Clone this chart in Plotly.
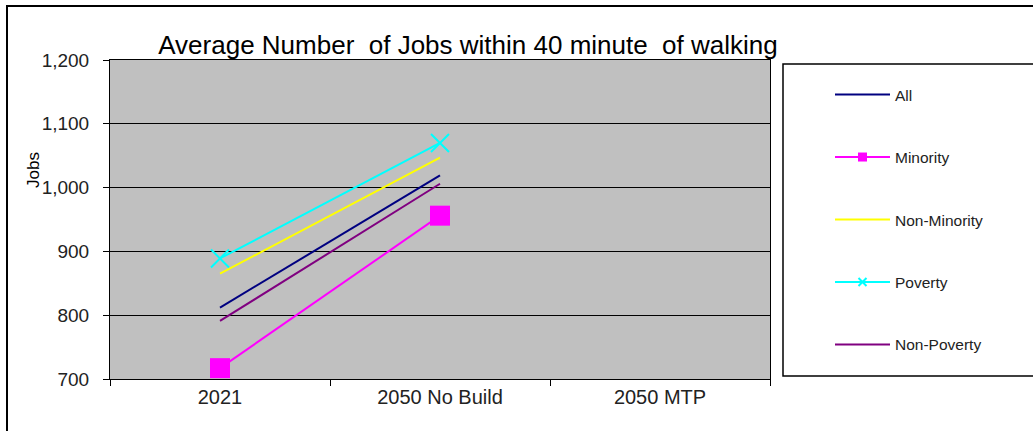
import plotly.graph_objects as go

categories = ["2021", "2050 No Build", "2050 MTP"]

all_jobs = [812, 1019, None]
minority = [717, 956, None]
non_minority = [865, 1047, None]
poverty = [889, 1070, None]
non_poverty = [791, 1006, None]

series = [
    ("All", all_jobs, "#000080", None),
    ("Minority", minority, "#FF00FF", "square"),
    ("Non-Minority", non_minority, "#FFFF00", None),
    ("Poverty", poverty, "#00FFFF", "x-thin"),
    ("Non-Poverty", non_poverty, "#800080", None),
]

FONT = "Liberation Sans, Arial, sans-serif"

fig = go.Figure()

# plotted lines (big markers), legend handled by small dummy entries below
for name, vals, color, sym in series:
    if sym == "square":
        marker = dict(symbol="square", size=20, color=color)
        mode = "lines+markers"
    elif sym == "x-thin":
        marker = dict(symbol="x-thin", size=18, color=color, line=dict(color=color, width=2))
        mode = "lines+markers"
    else:
        marker = None
        mode = "lines"
    fig.add_trace(go.Scatter(x=categories, y=vals, mode=mode, name=name,
                             line=dict(color=color, width=2), marker=marker,
                             showlegend=False))

for name, vals, color, sym in series:
    if sym == "square":
        marker = dict(symbol="square", size=9, color=color)
        mode = "lines+markers"
    elif sym == "x-thin":
        marker = dict(symbol="x-thin", size=8, color=color, line=dict(color=color, width=2))
        mode = "lines+markers"
    else:
        marker = None
        mode = "lines"
    fig.add_trace(go.Scatter(x=[None], y=[None], mode=mode, name=name,
                             line=dict(color=color, width=2), marker=marker,
                             legendgroup=name))

# page pixel -> paper coords (plot area is x 110..770, y 60..379)
def px_x(p):
    return (p - 110) / 660

def px_y(p):
    return (379 - p) / 319

# outer chart border and legend box
fig.add_shape(type="rect", xref="paper", yref="paper",
              x0=px_x(7), x1=px_x(1045), y0=px_y(445), y1=px_y(6),
              line=dict(color="black", width=2), fillcolor="rgba(0,0,0,0)", layer="below")
fig.add_shape(type="rect", xref="paper", yref="paper",
              x0=px_x(783), x1=px_x(1045), y0=px_y(376), y1=px_y(64),
              line=dict(color="black", width=1.5), fillcolor="white", layer="below")

fig.add_annotation(text="Jobs", xref="paper", yref="paper", x=px_x(33), y=px_y(170),
                   xanchor="center", yanchor="middle",
                   showarrow=False, textangle=-90, font=dict(family=FONT, size=17, color="black"))

fig.update_layout(
    width=1033, height=431,
    margin=dict(l=110, r=263, t=60, b=52),
    paper_bgcolor="white",
    plot_bgcolor="#C0C0C0",
    title=dict(text="Average Number\u00a0 of Jobs within 40 minute\u00a0 of walking",
               x=468 / 1033, xanchor="center", y=1 - 45 / 431, yanchor="middle",
               font=dict(family=FONT, size=26, color="black")),
    font=dict(family=FONT, color="black"),
    xaxis=dict(type="category", range=[-0.5, 2.5], showgrid=False,
               showline=True, linecolor="black", linewidth=1, mirror=True,
               ticks="outside", tickson="boundaries", ticklen=6, tickcolor="black",
               tickfont=dict(size=20, color="#222")),
    yaxis=dict(range=[700, 1200], dtick=100, tickformat=",d",
               showgrid=True, gridcolor="black", gridwidth=1,
               showline=True, linecolor="black", linewidth=1, mirror=True,
               ticks="outside", ticklen=6, tickcolor="black", zeroline=False,
               ticklabelstandoff=10,
               tickfont=dict(size=19, color="#222")),
    legend=dict(x=px_x(830), y=px_y(78), xanchor="left", yanchor="top",
                bgcolor="rgba(0,0,0,0)", tracegroupgap=39.3, itemwidth=55,
                font=dict(family=FONT, size=15.5, color="#222")),
    showlegend=True,
)

# drop the default 8px page margin so the figure fills the window
fig.write_html("out.html", config={"displayModeBar": False},
               post_script="document.body.style.margin='0';")
